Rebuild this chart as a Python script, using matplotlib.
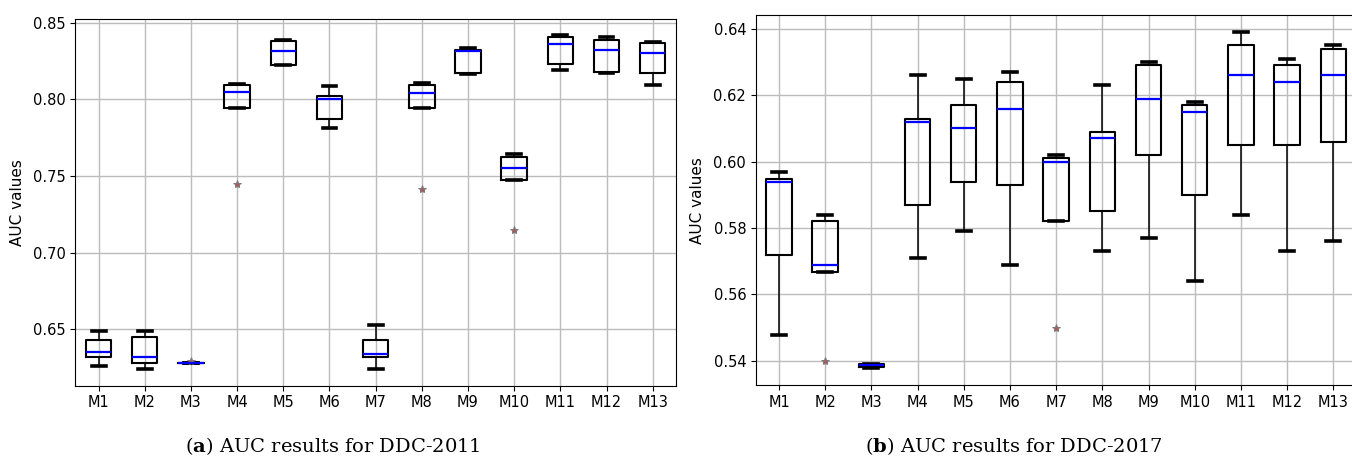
import matplotlib
matplotlib.use("Agg")
import matplotlib.pyplot as plt

plt.rcParams['font.family'] = ['DejaVu Sans']
plt.rcParams['mathtext.fontset'] = 'custom'
plt.rcParams['mathtext.rm'] = 'DejaVu Serif'
plt.rcParams['mathtext.bf'] = 'DejaVu Serif:bold'

labels = ["M1", "M2", "M3", "M4", "M5", "M6", "M7", "M8", "M9", "M10", "M11", "M12", "M13"]

# DDC-2011
a_whislo = [0.6261, 0.6242, 0.6280, 0.7943, 0.8222, 0.7813, 0.6242, 0.7941, 0.8163, 0.7471, 0.8193, 0.8172, 0.8093]
a_q1     = [0.6320, 0.6281, 0.6280, 0.7945, 0.8224, 0.7873, 0.6318, 0.7941, 0.8172, 0.7471, 0.8232, 0.8180, 0.8174]
a_med    = [0.6351, 0.6320, 0.6282, 0.8046, 0.8315, 0.8004, 0.6342, 0.8043, 0.8315, 0.7554, 0.8363, 0.8324, 0.8304]
a_q3     = [0.6429, 0.6451, 0.6283, 0.8091, 0.8383, 0.8024, 0.6431, 0.8093, 0.8322, 0.7625, 0.8407, 0.8385, 0.8366]
a_whishi = [0.6492, 0.6492, 0.6284, 0.8098, 0.8389, 0.8085, 0.6531, 0.8108, 0.8337, 0.7643, 0.8418, 0.8407, 0.8374]
a_fliers = [[], [], [0.6295], [0.7445], [], [], [], [0.7413], [], [0.7151], [], [], []]

# DDC-2017
b_whislo = [0.5479, 0.5669, 0.5378, 0.5710, 0.5790, 0.5690, 0.5820, 0.5730, 0.5770, 0.5640, 0.5840, 0.5730, 0.5760]
b_q1     = [0.5719, 0.5669, 0.5380, 0.5869, 0.5940, 0.5930, 0.5820, 0.5850, 0.6020, 0.5900, 0.6050, 0.6050, 0.6060]
b_med    = [0.5939, 0.5689, 0.5388, 0.6120, 0.6100, 0.6160, 0.6000, 0.6070, 0.6190, 0.6150, 0.6260, 0.6240, 0.6260]
b_q3     = [0.5949, 0.5820, 0.5389, 0.6130, 0.6170, 0.6240, 0.6010, 0.6090, 0.6290, 0.6170, 0.6350, 0.6290, 0.6340]
b_whishi = [0.5969, 0.5840, 0.5391, 0.6260, 0.6250, 0.6271, 0.6020, 0.6230, 0.6300, 0.6180, 0.6390, 0.6310, 0.6350]
b_fliers = [[], [0.5400], [], [], [], [], [0.5500], [], [], [], [], [], []]

a_ticks = [0.65, 0.70, 0.75, 0.80, 0.85]
b_ticks = [0.54, 0.56, 0.58, 0.60, 0.62, 0.64]


def stats(lo, q1, med, q3, hi, fl):
    return [dict(whislo=lo[i], q1=q1[i], med=med[i], q3=q3[i], whishi=hi[i],
                 fliers=fl[i], label=labels[i]) for i in range(len(labels))]


fig = plt.figure(figsize=(13.52, 4.59), dpi=100)
ax1 = fig.add_axes([0.05584, 0.1597, 0.4440, 0.7983])
ax2 = fig.add_axes([0.5591, 0.1612, 0.4442, 0.8055])


def draw(ax, st, ylim, ticks):
    ax.bxp(st, widths=0.55, capwidths=0.3,
           boxprops=dict(color='black', linewidth=1.5),
           whiskerprops=dict(color='black', linewidth=1.1),
           capprops=dict(color='black', linewidth=2.6),
           medianprops=dict(color='#0000ff', linewidth=1.6),
           flierprops=dict(marker='*', markersize=6, markerfacecolor='#b05858',
                           markeredgecolor='#7a7a7a', markeredgewidth=0.7, linestyle='none'))
    ax.set_xlim(0.5, 13.5)
    ax.set_ylim(*ylim)
    ax.set_yticks(ticks)
    ax.set_yticklabels([f"{t:.2f}" for t in ticks])
    ax.grid(True, color='#bcbcbc', linewidth=1.0)
    ax.set_axisbelow(True)
    ax.tick_params(labelsize=10.5)
    ax.set_ylabel("AUC values", fontsize=11)
    for s in ax.spines.values():
        s.set_color('black')


draw(ax1, stats(a_whislo, a_q1, a_med, a_q3, a_whishi, a_fliers), (0.6133, 0.8522), a_ticks)
draw(ax2, stats(b_whislo, b_q1, b_med, b_q3, b_whishi, b_fliers), (0.5327, 0.6441), b_ticks)
ax1.yaxis.set_label_coords(-0.084, 0.5)
ax2.yaxis.set_label_coords(-0.085, 0.5)

fig.text(185 / 1352, 0.014, r"($\mathbf{a}$) AUC results for DDC-2011",
         family='DejaVu Serif', fontsize=14, ha='left', va='baseline')
fig.text(865 / 1352, 0.014, r"($\mathbf{b}$) AUC results for DDC-2017",
         family='DejaVu Serif', fontsize=14, ha='left', va='baseline')

fig.savefig("out.png", dpi=100)
